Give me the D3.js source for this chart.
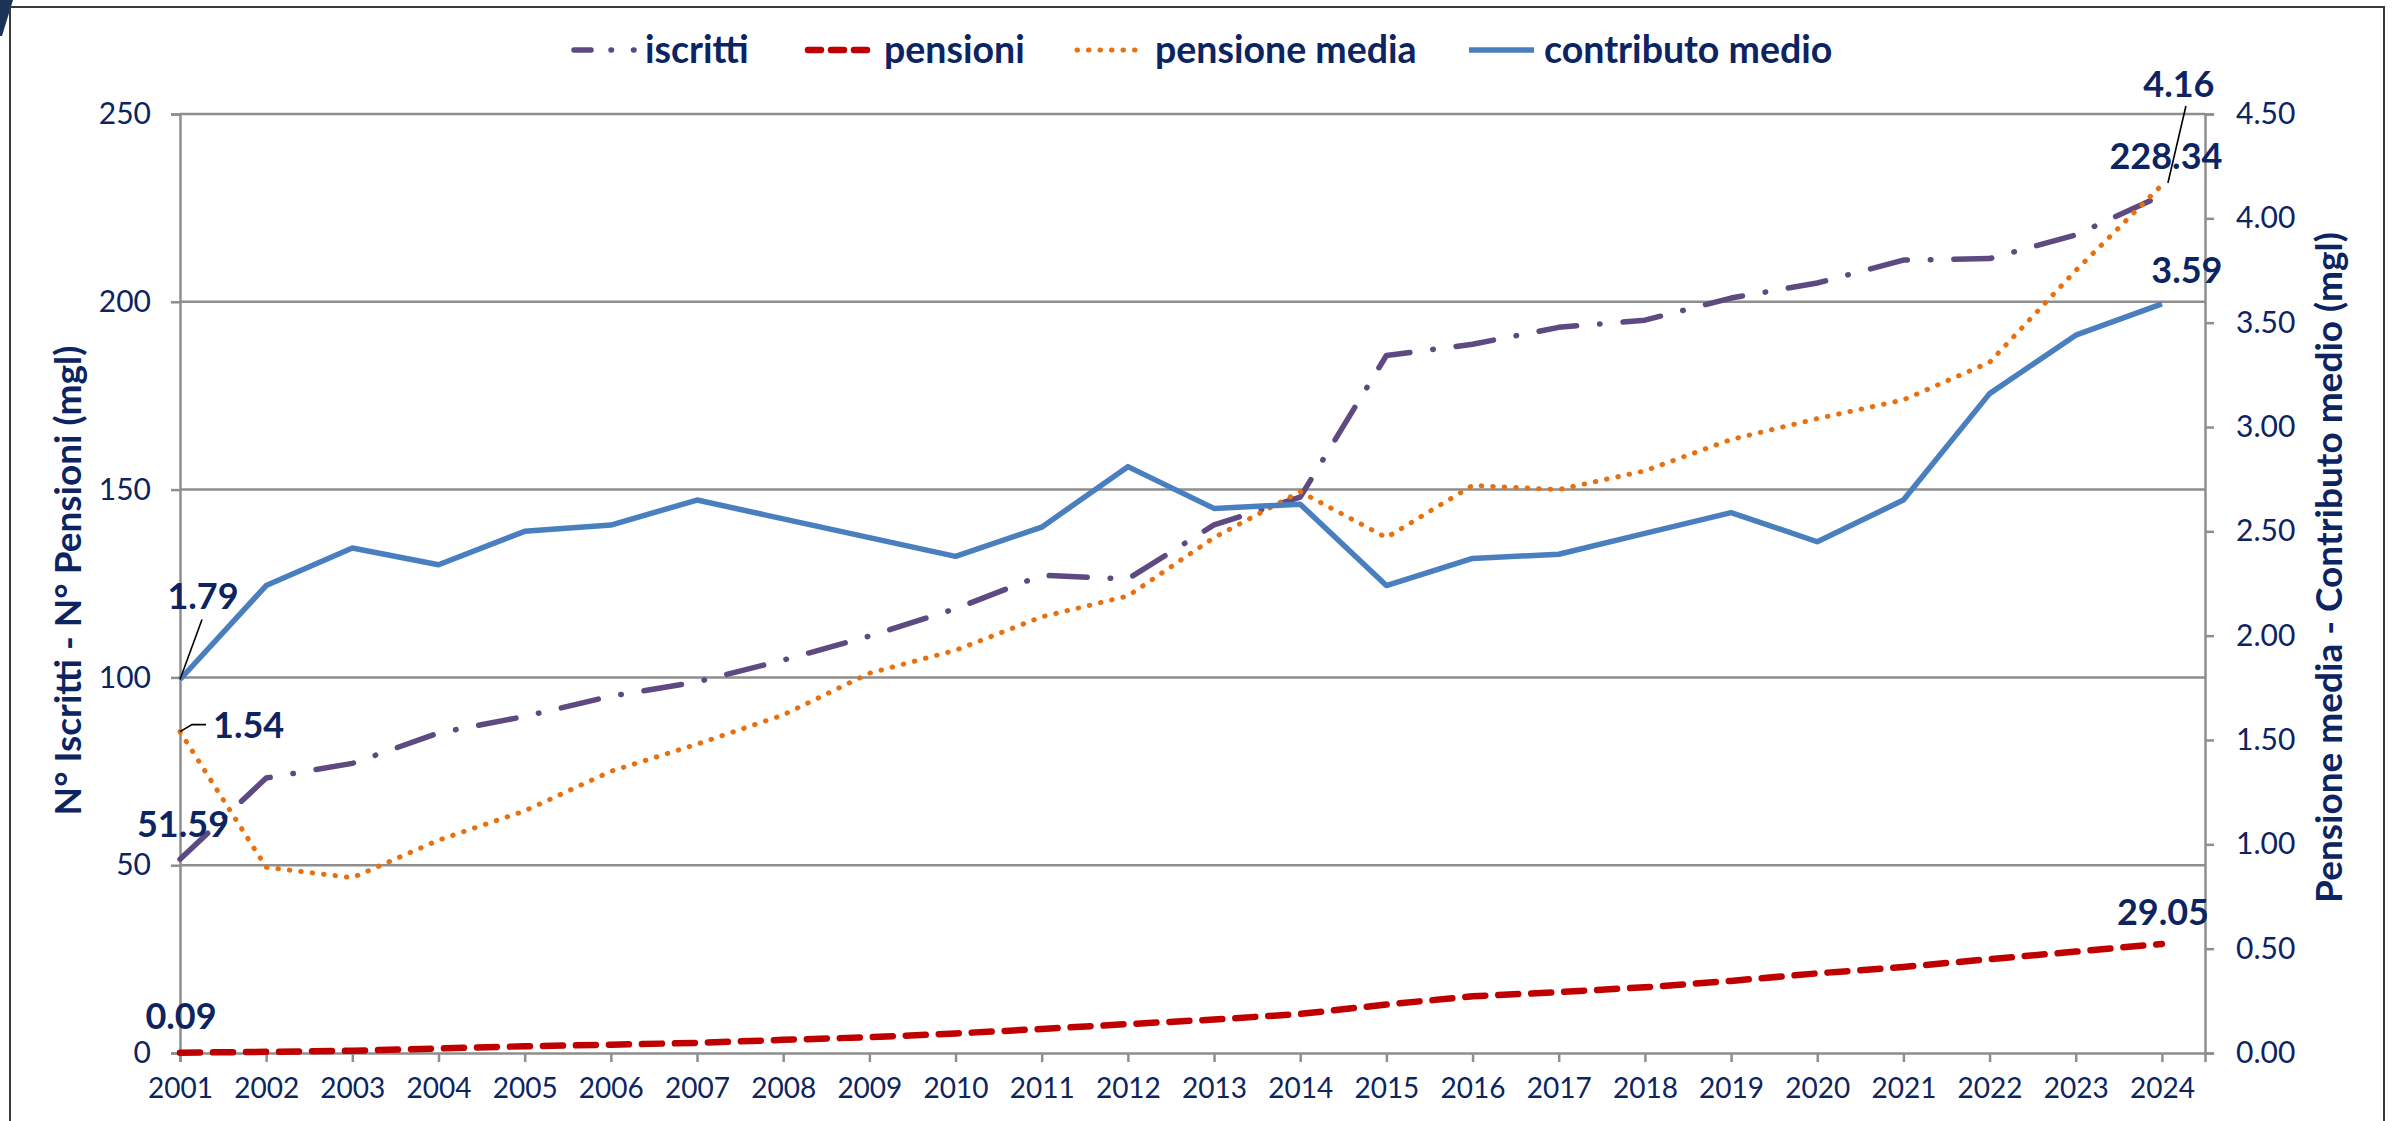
<!DOCTYPE html>
<html>
<head>
<meta charset="utf-8">
<script src="https://cdn.jsdelivr.net/npm/d3@7"></script>
<style>
  html, body { margin: 0; padding: 0; background: #ffffff; }
  svg { display: block; font-family: Lato, "Open Sans", sans-serif; }
</style>
</head>
<body>
<svg id="chart" width="2392" height="1121"></svg>
<script>
// ---------------- DATA ----------------
const years = [2001,2002,2003,2004,2005,2006,2007,2008,2009,2010,2011,2012,2013,2014,2015,2016,2017,2018,2019,2020,2021,2022,2023,2024];
const iscritti = [51.59,73.2,77.1,85.2,89.6,95.0,98.8,104.6,111.0,118.3,127.2,126.2,140.6,148.0,185.7,188.7,193.2,195.1,201.0,205.0,211.1,211.5,217.8,228.34];
const pensioni = [0.09,0.3,0.6,1.2,1.8,2.2,2.7,3.5,4.2,5.2,6.4,7.7,8.9,10.4,12.9,15.1,16.2,17.5,19.2,21.2,22.9,25.0,27.0,29.05];
const pensioneMedia = [1.54,0.89,0.84,1.02,1.16,1.35,1.48,1.62,1.82,1.93,2.09,2.19,2.47,2.69,2.47,2.72,2.70,2.79,2.94,3.04,3.13,3.31,3.75,4.16];
const contributoMedio = [1.79,2.24,2.42,2.34,2.50,2.53,2.65,2.56,2.47,2.38,2.52,2.81,2.61,2.63,2.24,2.37,2.39,2.49,2.59,2.45,2.65,3.16,3.44,3.59];
const leftTicks = [0,50,100,150,200,250];
const rightTicks = [0,0.5,1,1.5,2,2.5,3,3.5,4,4.5];
const seriesNames = ["iscritti","pensioni","pensione media","contributo medio"];
const leftTitle = "N° Iscritti - N° Pensioni (mgl)";
const rightTitle = "Pensione media - Contributo medio (mgl)";

// ---------------- STYLE ----------------
const NAVY = "#0c2461";
const GRID = "#8e8e8e";
const styles = {
  "iscritti":        {color:"#5e4a80", width:5.5, dash:"38,23,0.5,23", cap:"round"},
  "pensioni":        {color:"#c00000", width:6.5, dash:"20,13", cap:"round"},
  "pensione media":  {color:"#e8700e", width:5, dash:"0.5,11", cap:"round"},
  "contributo medio":{color:"#4a7fbf", width:5.5, dash:null, cap:"butt"}
};
// legend item placement (swatch start, swatch end, text start)
const legendPos = [[571,640,645],[805,871,884],[1074,1141,1155],[1466,1537,1544]];

const svg = d3.select("#chart");

// frame + corner decoration
svg.append("polygon").attr("points","0,0 13,0 2,36 0,36").attr("fill","#1c3358");
svg.append("rect").attr("x",10).attr("y",7).attr("width",2374).attr("height",1140)
   .attr("fill","none").attr("stroke","#3a3a3a").attr("stroke-width",2);

const x = d3.scaleLinear().domain([2001, 2024.5]).range([180, 2205]);
const yL = d3.scaleLinear().domain([0,250]).range([1053,114]);
const yR = d3.scaleLinear().domain([0,4.5]).range([1053,114]);

// gridlines
svg.append("g").selectAll("line").data(leftTicks.filter(d=>d>0)).join("line")
  .attr("x1", x.range()[0]).attr("x2", x.range()[1])
  .attr("y1", d=>yL(d)).attr("y2", d=>yL(d))
  .attr("stroke", GRID).attr("stroke-width", 2.5);

function styleAxis(g, fs){
  g.select(".domain").attr("stroke", GRID).attr("stroke-width", 2.5);
  g.selectAll(".tick line").attr("stroke", GRID).attr("stroke-width", 2.5);
  g.selectAll(".tick text").attr("fill", NAVY).attr("font-size", fs).attr("font-family","Lato");
}

// left axis
const gL = svg.append("g").attr("transform","translate(180,0)")
  .call(d3.axisLeft(yL).tickValues(leftTicks).tickSize(9).tickPadding(20).tickFormat(d3.format("d")));
styleAxis(gL, 30);
// right axis
const gR = svg.append("g").attr("transform","translate(2205,0)")
  .call(d3.axisRight(yR).tickValues(rightTicks).tickSize(9).tickPadding(22).tickFormat(d3.format(".2f")));
styleAxis(gR, 30);
// bottom axis
const gB = svg.append("g").attr("transform","translate(0,1053)")
  .call(d3.axisBottom(x).tickValues(years).tickSize(9).tickPadding(16).tickFormat(d3.format("d")));
styleAxis(gB, 28);

// axis titles
svg.append("text").attr("transform","translate(81,"+((114+1053)/2 - 3)+") rotate(-90)")
  .attr("text-anchor","middle").attr("fill",NAVY).attr("font-weight","bold").attr("font-size",37)
  .text(leftTitle);
svg.append("text").attr("transform","translate(2342,"+((114+1053)/2 - 16)+") rotate(-90)")
  .attr("text-anchor","middle").attr("fill",NAVY).attr("font-weight","bold").attr("font-size",37)
  .text(rightTitle);

// lines
const seriesData = [
  {name:"iscritti", values:iscritti, y:yL},
  {name:"pensioni", values:pensioni, y:yL},
  {name:"pensione media", values:pensioneMedia, y:yR},
  {name:"contributo medio", values:contributoMedio, y:yR}
];
seriesData.forEach(s=>{
  const st = styles[s.name];
  const line = d3.line().x((d,i)=>x(years[i])).y(d=>s.y(d));
  svg.append("path").datum(s.values).attr("d", line)
    .attr("fill","none").attr("stroke", st.color).attr("stroke-width", st.width)
    .attr("stroke-linecap", st.cap).attr("stroke-linejoin","round")
    .attr("stroke-dasharray", st.dash);
});

// data labels
const fmt = d3.format(".2f");
const last = years.length-1;
function label(txt, px, py, dx, dy, anchor){
  svg.append("text").attr("x", px+dx).attr("y", py+dy).attr("text-anchor", anchor||"middle")
    .attr("fill", NAVY).attr("font-weight","bold").attr("font-size",36).attr("font-family","Lato")
    .text(txt);
}
function leader(pts){
  svg.append("polyline").attr("points", pts.map(p=>p.join(",")).join(" "))
    .attr("fill","none").attr("stroke","#000").attr("stroke-width",1.6);
}
// 2001
{
  const px = x(years[0]);
  let py = yR(contributoMedio[0]);
  leader([[px,py],[px+22,py-60]]);
  label(fmt(contributoMedio[0]), px, py, 23, -70);
  py = yR(pensioneMedia[0]);
  leader([[px,py],[px+12,py-7],[px+26,py-7]]);
  label(fmt(pensioneMedia[0]), px, py, 33, 6, "start");
  py = yL(iscritti[0]);
  label(fmt(iscritti[0]), px, py, 3, -22);
  py = yL(pensioni[0]);
  label(fmt(pensioni[0]), px, py, 1, -24);
}
// 2024
{
  const px = x(years[last]);
  let py = yR(pensioneMedia[last]);
  leader([[px+6,py-2],[px+24,py-79]]);
  label(fmt(pensioneMedia[last]), px, py, 17, -88);
  py = yL(iscritti[last]);
  label(fmt(iscritti[last]), px, py, 4, -26);
  py = yR(contributoMedio[last]);
  label(fmt(contributoMedio[last]), px, py, 25, -21);
  py = yL(pensioni[last]);
  label(fmt(pensioni[last]), px, py, 1, -19);
}

// legend
const lg = svg.append("g");
const ly = 50;
seriesNames.forEach((n,i)=>{
  const st = styles[n];
  const [s0, s1, t0] = legendPos[i];
  const l = lg.append("line").attr("x1", s0+3).attr("x2", s1-3).attr("y1", ly).attr("y2", ly)
    .attr("stroke", st.color).attr("stroke-width", st.width).attr("stroke-linecap", st.cap);
  if (n==="iscritti") l.attr("stroke-dasharray","17,20,0.5,22,0.5,40");
  else if (n==="pensioni") l.attr("stroke-dasharray","13,10");
  else if (n==="pensione media") l.attr("stroke-dasharray","0.5,11");
  lg.append("text").attr("x", t0).attr("y", ly+13).attr("fill",NAVY)
    .attr("font-weight","bold").attr("font-size",37.5).attr("font-family","Lato").text(n);
});
</script>
</body>
</html>
